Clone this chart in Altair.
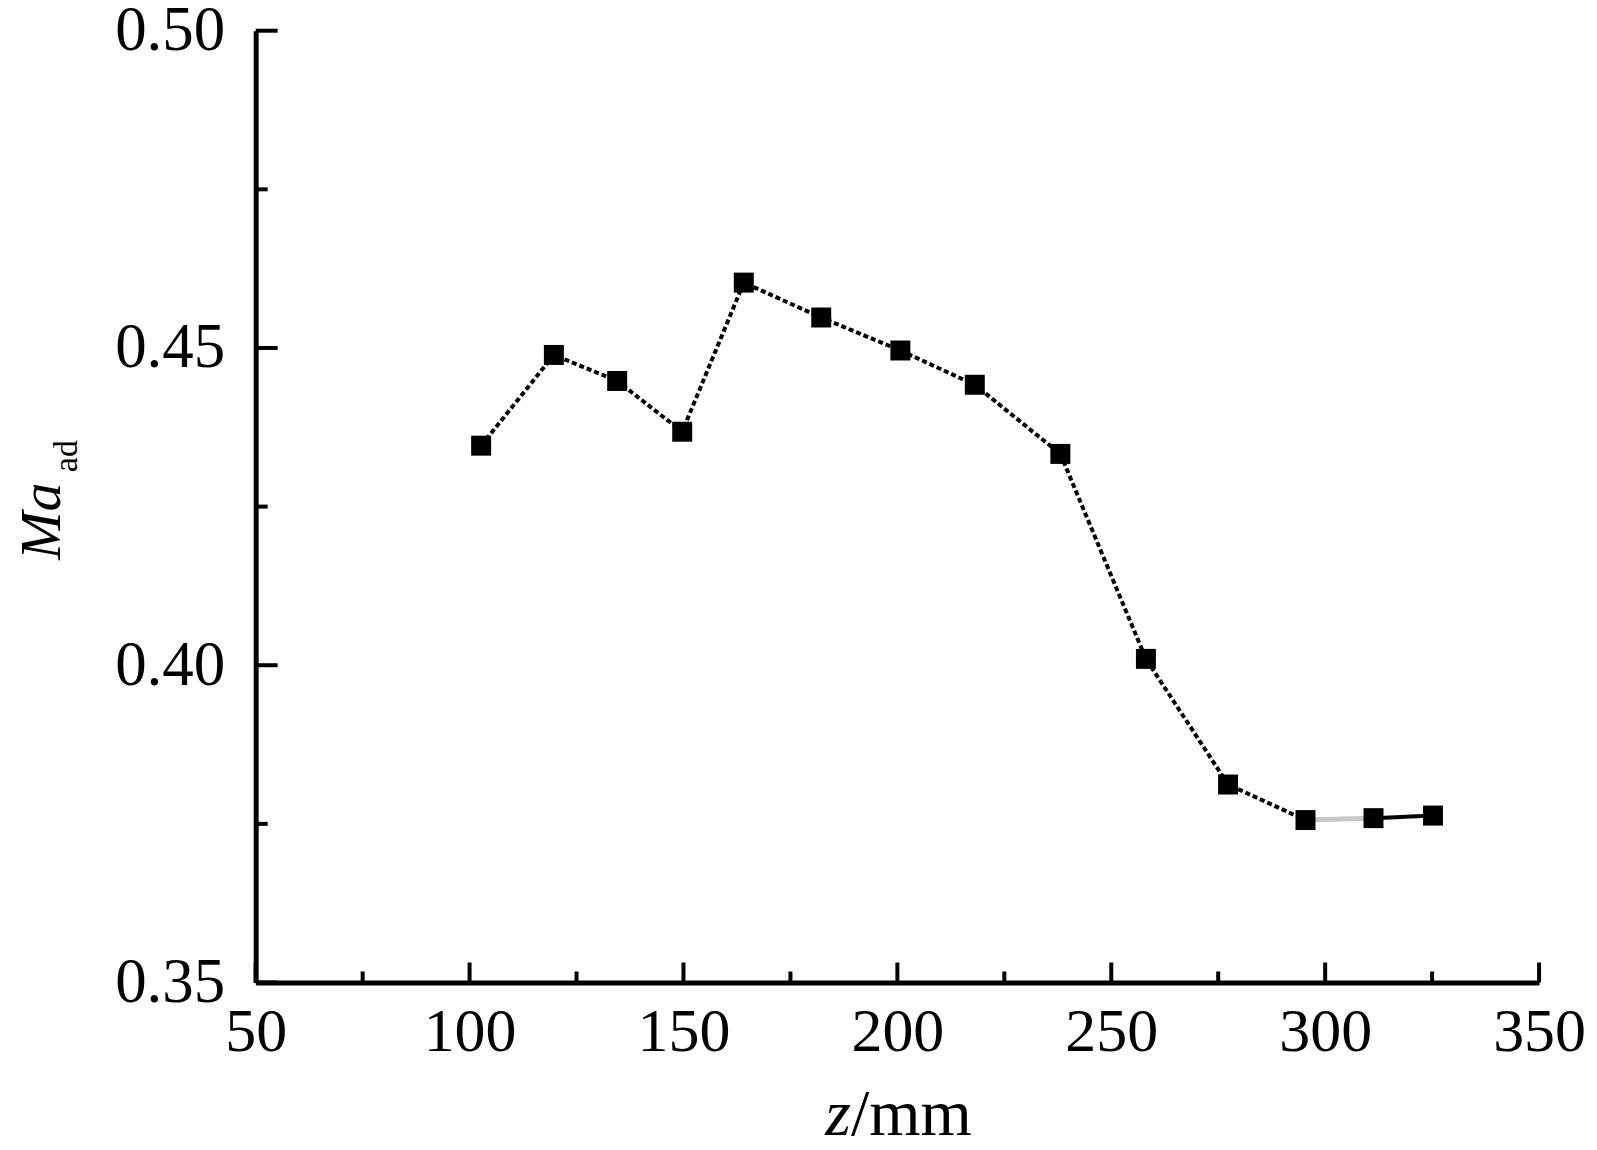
import altair as alt
import pandas as pd

# ---- data ----
z_mm = [102.7, 119.7, 134.5, 149.7, 164.1, 182.2, 200.7, 218.1, 238.1, 258.1, 277.3, 295.4, 311.3, 325.2]
ma_ad = [0.4346, 0.4489, 0.4448, 0.4368, 0.4603, 0.4548, 0.4496, 0.4442, 0.4333, 0.4010, 0.3812, 0.3756, 0.3759, 0.3763]

x_major = [50, 100, 150, 200, 250, 300, 350]
x_minor = [75, 125, 175, 225, 275, 325]
y_major = [0.35, 0.40, 0.45, 0.50]
y_minor = [0.375, 0.425, 0.475]

FONT = "Liberation Serif"
W, H = 1285, 953

df = pd.DataFrame({"z": z_mm, "ma": ma_ad})
df_dot = df.iloc[0:12]
df_gray = df.iloc[11:13]
df_solid = df.iloc[12:14]

xscale = alt.Scale(domain=[50, 350], nice=False, zero=False)
yscale = alt.Scale(domain=[0.35, 0.50], nice=False, zero=False)

xaxis = alt.Axis(values=x_major, format="d", grid=False, ticks=False, tickSize=0,
                 labelPadding=19, labelFontSize=62, labelFont=FONT, labelColor="black",
                 domainColor="black", domainWidth=5, title=None, labelFlush=False)
yaxis = alt.Axis(values=y_major, format=".2f", grid=False, ticks=False, tickSize=0,
                 labelPadding=31, labelFontSize=63, labelFont=FONT, labelColor="black",
                 domainColor="black", domainWidth=5, title=None, labelFlush=False)


def X(field):
    return alt.X(field, type="quantitative", scale=xscale, axis=xaxis)


def Y(field):
    return alt.Y(field, type="quantitative", scale=yscale, axis=yaxis)


dotted = alt.Chart(df_dot).mark_line(color="black", strokeWidth=4, strokeDash=[5, 3]).encode(
    x=X("z"), y=Y("ma"))
gray = alt.Chart(df_gray).mark_line(color="#c8c8c8", strokeWidth=5).encode(
    x=X("z"), y=Y("ma"))
solid = alt.Chart(df_solid).mark_line(color="black", strokeWidth=4).encode(
    x=X("z"), y=Y("ma"))
points = alt.Chart(df).mark_point(shape="square", filled=True, size=400, color="black", opacity=1).encode(
    x=X("z"), y=Y("ma"))

# inward ticks
ymaj = alt.Chart(pd.DataFrame({"ma": y_major})).mark_rule(color="black", strokeWidth=4).encode(
    y=Y("ma"), x=alt.value(0), x2=alt.value(22))
ymin = alt.Chart(pd.DataFrame({"ma": y_minor})).mark_rule(color="black", strokeWidth=4).encode(
    y=Y("ma"), x=alt.value(0), x2=alt.value(12))
xmaj = alt.Chart(pd.DataFrame({"z": x_major})).mark_rule(color="black", strokeWidth=4).encode(
    x=X("z"), y=alt.value(H), y2=alt.value(H - 20))
xmin = alt.Chart(pd.DataFrame({"z": x_minor})).mark_rule(color="black", strokeWidth=4).encode(
    x=X("z"), y=alt.value(H), y2=alt.value(H - 11))

# axis titles with mixed styles
one = pd.DataFrame({"k": [0]})
t_ma = alt.Chart(one).mark_text(text="Ma", font=FONT, fontSize=58, fontStyle="italic", angle=270,
                                align="center", baseline="alphabetic", color="black").encode(
    x=alt.value(-196), y=alt.value(491))
t_ad = alt.Chart(one).mark_text(text="ad", font=FONT, fontSize=34, angle=270,
                                align="center", baseline="alphabetic", color="black").encode(
    x=alt.value(-179), y=alt.value(426))
t_z = alt.Chart(one).mark_text(text="z", font=FONT, fontSize=66, fontStyle="italic",
                               align="right", baseline="alphabetic", color="black").encode(
    x=alt.value(596), y=alt.value(1106))
t_mm = alt.Chart(one).mark_text(text="/mm", font=FONT, fontSize=66,
                                align="left", baseline="alphabetic", color="black").encode(
    x=alt.value(596), y=alt.value(1106))

chart = alt.layer(dotted, gray, solid, points, ymaj, ymin, xmaj, xmin, t_ma, t_ad, t_z, t_mm).properties(
    width=W, height=H,
    autosize=alt.AutoSizeParams(type="none"),
    padding={"left": 248, "top": 22, "right": 50, "bottom": 170},
    background="white",
).configure_view(stroke=None)

chart.save("out.html", embed_options={"renderer": "svg", "actions": False})
